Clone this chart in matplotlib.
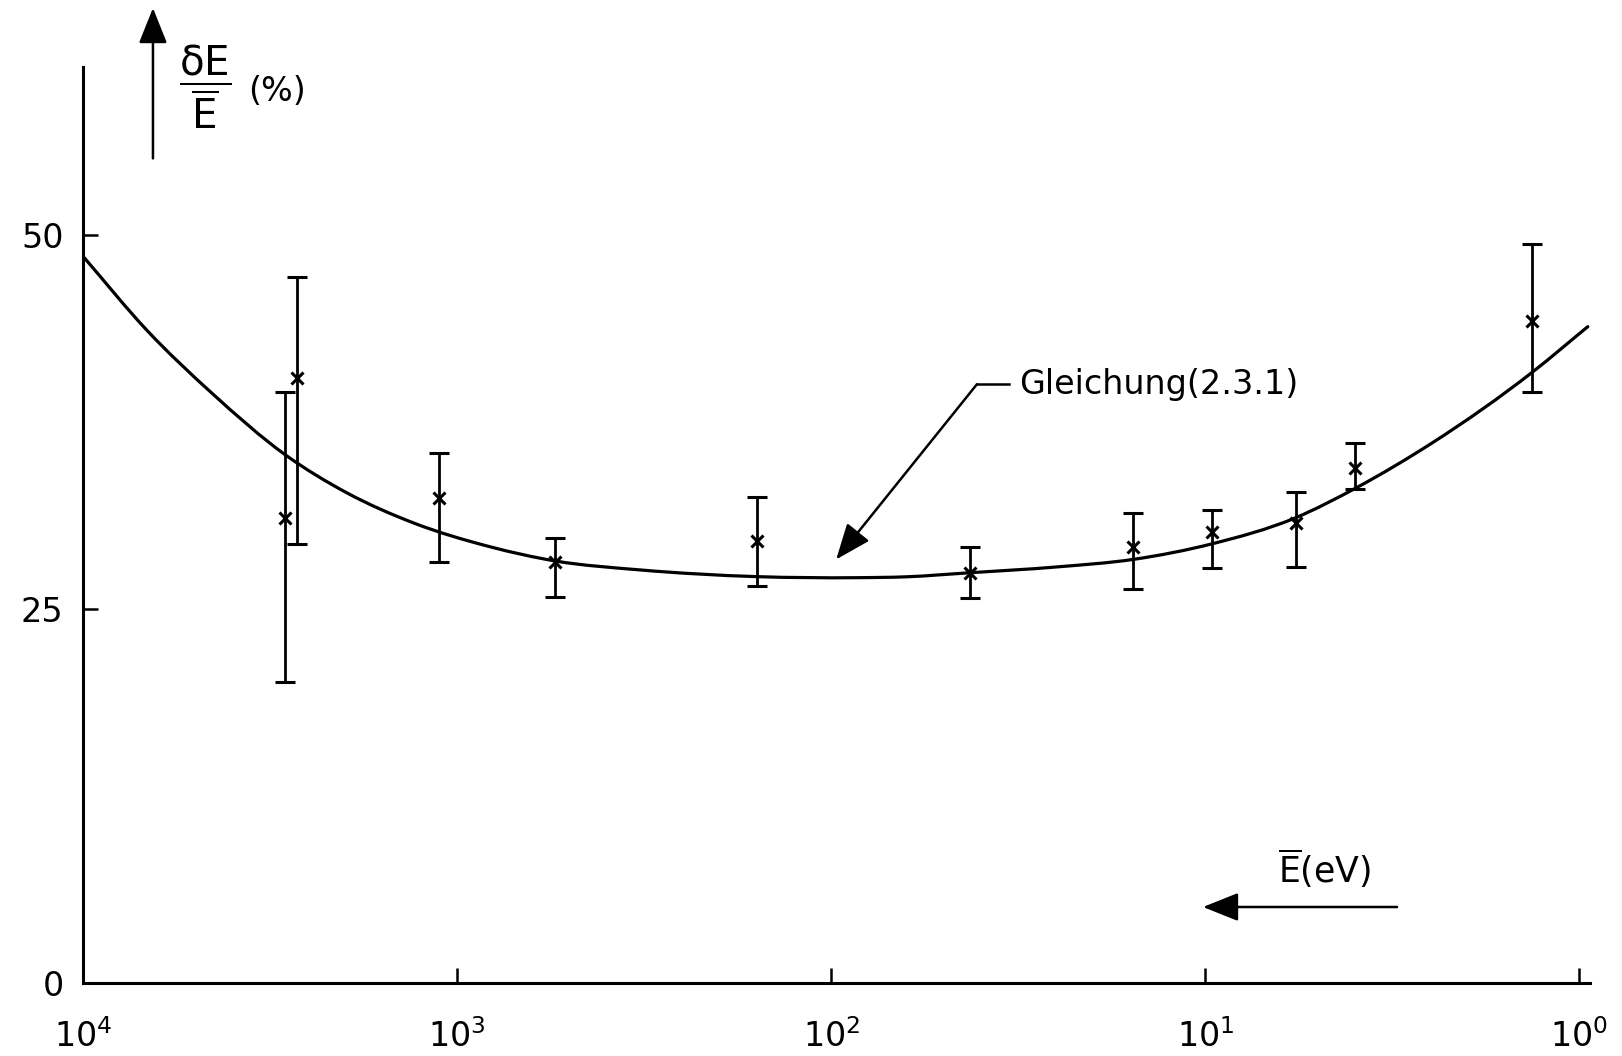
import numpy as np
import matplotlib
matplotlib.use("Agg")
import matplotlib.pyplot as plt
from matplotlib.path import Path
from matplotlib.patches import PathPatch
from matplotlib.ticker import NullLocator

plt.rcParams['font.family'] = ['DejaVu Sans']
plt.rcParams['mathtext.fontset'] = 'dejavusans'

# measured points: mean energy (eV), relative resolution (%) and error bar ends
energy = [2884, 2680, 1119, 548, 158, 42.7, 15.6, 9.62, 5.74, 3.99, 1.34]
resolution = [31.1, 40.4, 32.4, 28.1, 29.5, 27.4, 29.1, 30.1, 30.7, 34.4, 44.2]
err_high = [39.5, 47.2, 35.4, 29.7, 32.5, 29.1, 31.4, 31.6, 32.8, 36.1, 49.4]
err_low = [20.1, 29.3, 28.1, 25.8, 26.5, 25.7, 26.3, 27.7, 27.8, 33.0, 39.5]

# curve of Gleichung (2.3.1), read along its length
curve_energy = [10000, 6745, 4498, 2884, 1972, 1312, 818, 548, 325,
                158, 85.5, 62.8, 43.2, 24.9, 15.6, 9.57, 5.78, 3.94, 2.47,
                1.33, 0.95]
curve_value = [48.55, 43.6, 39.35, 35.3, 32.75, 30.75, 29.15, 28.2, 27.6,
               27.15, 27.08, 27.14, 27.4, 27.8, 28.3, 29.35, 31.05, 33.1, 36.1,
               40.85, 43.85]

xtick_pos = [1e4, 1e3, 1e2, 1e1, 1e0]
xtick_labels = [r'$10^{4}$', r'$10^{3}$', r'$10^{2}$', r'$10^{1}$', r'$10^{0}$']
ytick_pos = [0, 25, 50]


def smooth_path(xs, ys):
    # cubic Bezier through the points, tangents taken in log10(x)
    lx = np.log10(xs)
    y = np.asarray(ys, dtype=float)
    m = np.gradient(y, lx)
    verts = [(xs[0], y[0])]
    codes = [Path.MOVETO]
    for i in range(len(lx) - 1):
        h = lx[i + 1] - lx[i]
        verts.append((10 ** (lx[i] + h / 3), y[i] + m[i] * h / 3))
        verts.append((10 ** (lx[i + 1] - h / 3), y[i + 1] - m[i + 1] * h / 3))
        verts.append((xs[i + 1], y[i + 1]))
        codes += [Path.CURVE4] * 3
    return Path(verts, codes)


fig = plt.figure(figsize=(16.22, 10.56), dpi=100)
ax = fig.add_axes([0.0512, 0.0691, 0.9288, 0.8675])

ax.set_xscale('log')
ax.set_xlim(1e4, 10 ** -0.027)
ax.set_ylim(0, 61.2)

curve = PathPatch(smooth_path(curve_energy, curve_value), fill=False,
                  edgecolor='black', lw=2.3, capstyle='round', joinstyle='round')
ax.add_patch(curve)

res = np.array(resolution)
yerr = [res - np.array(err_low), np.array(err_high) - res]
ax.errorbar(energy, resolution, yerr=yerr, fmt='x', color='black', ms=9, mew=2.2,
            elinewidth=2.0, capsize=7, capthick=2.2)

ax.set_xlim(1e4, 10 ** -0.027)
ax.set_ylim(0, 61.2)
ax.xaxis.set_minor_locator(NullLocator())
ax.set_xticks(xtick_pos)
ax.set_xticklabels(xtick_labels)
ax.set_yticks(ytick_pos)
ax.tick_params(axis='both', direction='in', length=11, width=1.8, labelsize=24)
ax.tick_params(axis='x', pad=26)
ax.tick_params(axis='y', pad=14)

for side in ['top', 'right']:
    ax.spines[side].set_visible(False)
for side in ['left', 'bottom']:
    ax.spines[side].set_linewidth(2.2)

# label for the curve with its pointer
arrow_style = dict(arrowstyle='-|>,head_length=0.55,head_width=0.22',
                   mutation_scale=40, color='black', lw=1.8, shrinkA=0, shrinkB=0)
ax.annotate('', xy=(97, 28.3), xytext=(40.8, 40.0), arrowprops=arrow_style)
ax.plot([40.8, 33.5], [40.0, 40.0], color='black', lw=1.8)
ax.text(31.5, 40.0, 'Gleichung(2.3.1)', fontsize=24, ha='left', va='center')

# axis quantity labels with direction arrows
ax.annotate('', xy=(0.0943, 0.9924), xytext=(0.0943, 0.850),
            xycoords='figure fraction', textcoords='figure fraction',
            arrowprops=arrow_style, annotation_clip=False)
fig.text(0.1265, 0.918, r'$\dfrac{\mathrm{\delta E}}{\overline{\mathrm{E}}}$',
         fontsize=29, ha='center', va='center')
fig.text(0.171, 0.913, '(%)', fontsize=24, ha='center', va='center')

ax.annotate('', xy=(1203 / 1622, 1 - 907 / 1056), xytext=(1397 / 1622, 1 - 907 / 1056),
            xycoords='figure fraction', textcoords='figure fraction',
            arrowprops=arrow_style, annotation_clip=False)
fig.text(1325 / 1622, 1 - 868 / 1056, r'$\overline{\mathrm{E}}$(eV)',
         fontsize=25, ha='center', va='center')

fig.savefig('out.png', dpi=100, facecolor='white')
